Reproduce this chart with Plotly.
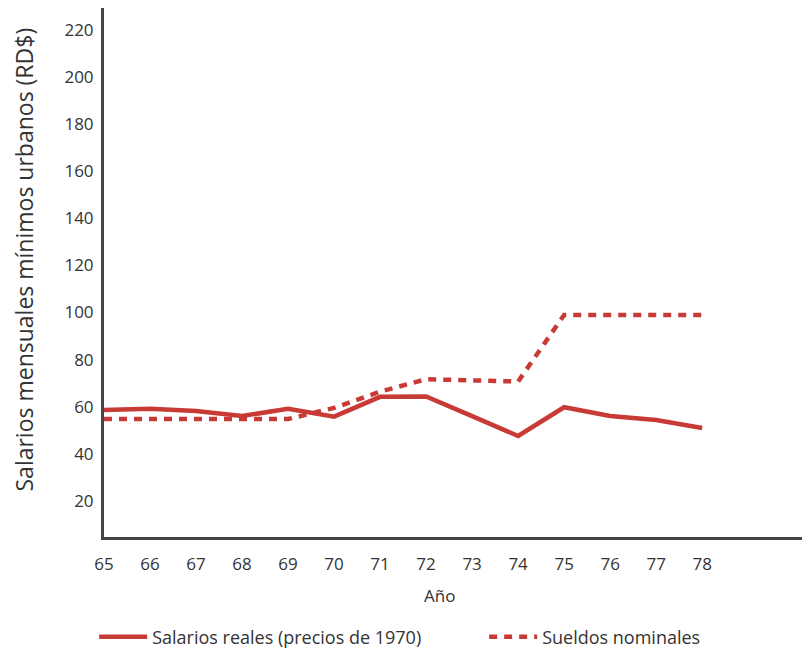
import plotly.graph_objects as go

years = [65, 66, 67, 68, 69, 70, 71, 72, 73, 74, 75, 76, 77, 78]
salarios_reales = [58.6, 59.1, 58.2, 56.1, 59.1, 55.8, 64.2, 64.4, 56.0, 47.6, 59.8, 56.1, 54.4, 51.0]
sueldos_nominales = [54.8, 54.8, 54.8, 54.8, 54.8, 59.5, 66.4, 71.7, 71.4, 70.7, 99.0, 99.0, 99.0, 99.0]
y_ticks = [20, 40, 60, 80, 100, 120, 140, 160, 180, 200, 220]

red = "#c83a35"
font_family = "Open Sans, sans-serif"
text_color = "#333333"

fig = go.Figure()
fig.add_trace(go.Scatter(x=years, y=salarios_reales, mode="lines",
                         name="Salarios reales (precios de 1970)",
                         line=dict(color=red, width=4.5), legend="legend"))
fig.add_trace(go.Scatter(x=years, y=sueldos_nominales, mode="lines",
                         name="Sueldos nominales",
                         line=dict(color=red, width=4.5, dash="8px,7px"), legend="legend2"))

fig.add_annotation(text="Salarios mensuales mínimos urbanos (RD$)", textangle=-90,
                   xref="paper", yref="paper", x=-0.1136, y=0.5246,
                   xanchor="center", yanchor="middle", showarrow=False, borderpad=0,
                   font=dict(size=23, color=text_color))
fig.add_annotation(text="Año", xref="paper", yref="paper", x=0.477, y=-0.1115,
                   xanchor="center", yanchor="middle", showarrow=False,
                   font=dict(size=17, color=text_color))

legend_common = dict(orientation="h", xanchor="left", y=-0.189, yanchor="middle",
                     font=dict(size=18, color=text_color), itemwidth=48)

fig.update_layout(
    width=802, height=643,
    paper_bgcolor="white", plot_bgcolor="white",
    margin=dict(l=96, r=2, t=0, b=114, autoexpand=False),
    font=dict(family=font_family, color=text_color, size=16),
    showlegend=True,
    legend=dict(x=-0.014, **legend_common),
    legend2=dict(x=0.540, **legend_common),
    xaxis=dict(range=[65, 80.3], tickvals=years, ticktext=[str(y) for y in years],
               showgrid=False, zeroline=False, showline=True, linecolor="#444444",
               linewidth=3, ticks="outside", ticklen=10, tickcolor="rgba(0,0,0,0)",
               tickfont=dict(size=17), automargin=False),
    yaxis=dict(range=[4.7, 229.3], tickvals=y_ticks, showgrid=False, zeroline=False,
               showline=True, linecolor="#444444", linewidth=3, ticks="outside",
               ticklen=4, tickcolor="rgba(0,0,0,0)", tickfont=dict(size=17),
               automargin=False),
)
fig.write_html("out.html")
